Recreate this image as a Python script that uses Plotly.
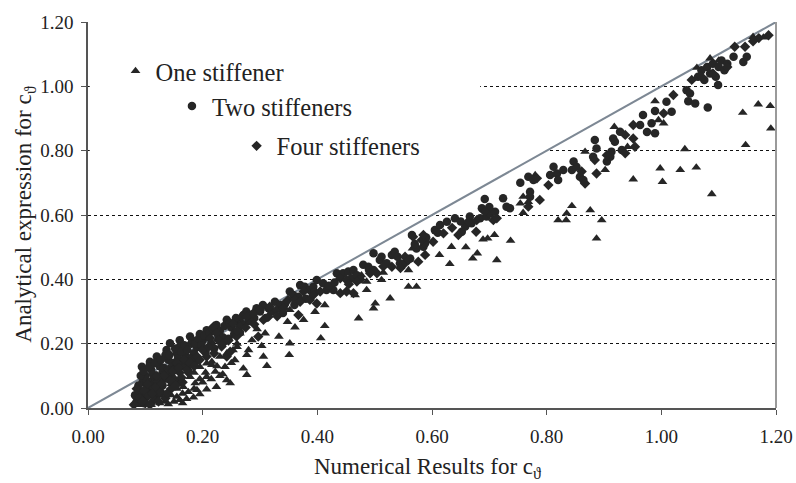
import plotly.graph_objects as go

# One stiffener (triangles)
one_x = [0.09,0.10,0.11,0.12,0.125,0.13,0.14,0.145,0.15,0.155,0.16,0.165,0.172,0.184,0.195,0.166,0.178,0.187,0.190,0.195,
         0.207,0.207,0.207,0.216,0.216,0.222,0.224,0.230,0.239,0.242,0.242,0.248,0.253,0.256,0.265,0.271,0.277,0.277,0.286,
         0.303,0.306,0.309,0.312,0.333,0.348,0.351,0.352,0.352,0.361,0.376,0.396,0.406,0.413,0.413,0.466,0.472,0.477,0.486,
         0.486,0.498,0.501,0.512,0.515,0.527,0.559,0.559,0.566,0.573,0.613,0.631,0.634,0.659,0.671,0.679,0.689,0.697,0.709,
         0.713,0.737,0.754,0.759,0.759,0.768,0.780,0.820,0.834,0.835,0.844,0.867,0.876,0.887,0.896,0.902,0.918,0.941,0.951,
         0.989,0.995,0.998,1.002,1.004,1.033,1.041,1.061,1.062,1.085,1.088,1.142,1.147,1.160,1.169,1.178,1.190,1.191,1.100,
         0.135,0.118,0.105,0.175,0.185,0.150,0.200,0.230,0.260,0.295,
         0.095,0.105,0.115,0.135,0.145,0.155,0.165,0.175,0.185,0.195,0.205,0.215,0.225,0.235,0.250,0.260,0.280]
one_y = [0.010,0.020,0.010,0.030,0.015,0.050,0.012,0.040,0.020,0.060,0.025,0.045,0.028,0.033,0.043,0.066,0.097,0.077,0.056,0.128,
         0.058,0.097,0.139,0.144,0.134,0.113,0.066,0.160,0.128,0.087,0.170,0.077,0.180,0.149,0.232,0.123,0.103,0.165,0.211,
         0.193,0.160,0.232,0.131,0.222,0.268,0.165,0.201,0.305,0.251,0.274,0.299,0.217,0.255,0.320,0.351,0.279,0.413,0.393,
         0.367,0.310,0.325,0.398,0.421,0.341,0.429,0.377,0.496,0.377,0.476,0.448,0.501,0.500,0.465,0.481,0.524,0.527,0.538,
         0.460,0.520,0.636,0.657,0.607,0.641,0.724,0.584,0.584,0.605,0.628,0.797,0.615,0.527,0.584,0.740,0.874,0.812,0.711,
         0.954,0.895,0.745,0.703,0.885,0.740,0.805,0.748,1.058,1.087,0.665,0.918,0.818,1.154,0.944,1.152,0.939,0.869,1.080,
         0.085,0.070,0.035,0.120,0.110,0.090,0.080,0.100,0.190,0.245,
         0.040,0.055,0.045,0.020,0.075,0.035,0.015,0.050,0.060,0.090,0.110,0.090,0.130,0.105,0.140,0.200,0.180]

# Two stiffeners (circles)
two_x = [0.085,0.090,0.095,0.094,0.100,0.100,0.105,0.108,0.110,0.115,0.120,0.120,0.125,0.130,0.130,0.137,0.140,0.143,0.145,0.150,
         0.155,0.160,0.160,0.165,0.170,0.178,0.180,0.185,0.190,0.195,0.200,0.207,0.210,0.215,0.224,0.230,0.235,0.242,0.250,
         0.255,0.260,0.271,0.280,0.285,0.294,0.300,0.310,0.315,0.326,0.335,0.344,0.352,0.358,0.367,0.370,0.378,0.387,0.393,
         0.399,0.410,0.416,0.428,0.434,0.445,0.454,0.463,0.460,0.469,0.480,0.489,0.498,0.498,0.509,0.512,0.521,0.530,0.535,
         0.544,0.556,0.562,0.565,0.573,0.585,0.588,0.605,0.614,0.626,0.640,0.652,0.658,0.666,0.669,0.684,0.687,0.692,0.695,
         0.701,0.710,0.724,0.730,0.736,0.754,0.768,0.771,0.771,0.777,0.806,0.812,0.818,0.820,0.829,0.844,0.847,0.852,0.858,
         0.864,0.881,0.884,0.887,0.905,0.911,0.913,0.916,0.919,0.928,0.931,0.963,0.968,0.975,0.983,0.989,0.989,1.009,1.018,
         1.044,1.050,1.047,1.059,1.064,1.070,1.075,1.080,1.085,1.090,1.095,1.100,1.105,1.110,1.115,1.099,1.081,1.126,1.143,
         1.149,0.112,0.128,0.148,0.158,0.172,0.188,0.205,0.220,0.245,0.265,0.098,0.118,0.135,
         0.082,0.088,0.092,0.097,0.103,0.107,0.113,0.117,0.122,0.127,0.132,0.138,0.142,0.147,0.152,0.157,0.163,0.168,0.173,
         0.182,0.187,0.193,0.198,0.203,0.212,0.218,0.228,0.238,0.247,0.258,0.268,0.276,0.290,0.305,
         0.320,0.340,0.360,0.380,0.395,0.420,0.430,0.475,0.490,0.540,0.570,0.590,0.610,0.650,0.700,
         0.088,0.102,0.115,0.126,0.140,0.152,0.166,0.178]
two_y = [0.020,0.050,0.080,0.128,0.030,0.100,0.060,0.144,0.120,0.090,0.160,0.040,0.130,0.070,0.110,0.180,0.150,0.201,0.100,0.130,
         0.170,0.211,0.190,0.140,0.160,0.222,0.200,0.170,0.190,0.230,0.210,0.242,0.220,0.200,0.258,0.240,0.220,0.274,0.250,
         0.230,0.270,0.289,0.270,0.290,0.310,0.300,0.280,0.310,0.330,0.320,0.325,0.362,0.351,0.346,0.382,0.377,0.367,0.377,
         0.398,0.388,0.367,0.367,0.419,0.419,0.424,0.429,0.403,0.413,0.445,0.439,0.481,0.429,0.460,0.470,0.450,0.476,0.486,
         0.450,0.460,0.465,0.538,0.496,0.501,0.512,0.553,0.569,0.579,0.590,0.548,0.564,0.595,0.574,0.590,0.621,0.650,0.595,
         0.605,0.610,0.652,0.626,0.621,0.700,0.719,0.672,0.657,0.709,0.724,0.750,0.729,0.709,0.740,0.740,0.766,0.750,0.719,
         0.709,0.781,0.833,0.807,0.766,0.781,0.797,0.838,0.828,0.859,0.802,0.880,0.911,0.858,0.885,0.923,0.854,0.952,0.921,
         0.988,0.978,0.954,0.947,1.030,1.050,1.020,1.060,1.040,1.070,1.030,1.060,1.080,1.050,1.070,1.004,0.934,1.092,1.076,
         1.092,0.075,0.095,0.115,0.080,0.125,0.145,0.175,0.185,0.215,0.235,0.015,0.055,0.165,
         0.040,0.070,0.100,0.115,0.085,0.130,0.105,0.140,0.080,0.150,0.125,0.095,0.165,0.140,0.185,0.155,0.175,0.195,0.180,
         0.210,0.200,0.215,0.195,0.225,0.235,0.245,0.225,0.255,0.265,0.280,0.262,0.300,0.280,0.320,
         0.300,0.295,0.320,0.340,0.360,0.380,0.390,0.400,0.430,0.470,0.510,0.530,0.545,0.580,0.625,
         0.030,0.040,0.060,0.045,0.105,0.120,0.130,0.155]

# Four stiffeners (diamonds)
four_x = [0.080,0.090,0.100,0.105,0.110,0.115,0.120,0.125,0.130,0.135,0.140,0.145,0.150,0.155,0.160,0.165,0.170,0.175,0.180,0.190,
          0.200,0.207,0.213,0.219,0.224,0.227,0.233,0.242,0.248,0.253,0.259,0.265,0.268,0.277,0.288,0.297,0.300,0.306,0.315,
          0.317,0.329,0.341,0.349,0.361,0.367,0.370,0.376,0.387,0.393,0.399,0.405,0.440,0.440,0.451,0.451,0.463,0.469,0.492,
          0.504,0.530,0.550,0.553,0.559,0.567,0.576,0.582,0.585,0.588,0.602,0.620,0.646,0.663,0.677,0.678,0.692,0.707,0.713,
          0.768,0.783,0.788,0.803,0.861,0.867,0.887,0.884,0.905,0.937,0.937,0.951,0.954,0.951,1.004,1.021,1.053,1.070,1.090,
          1.115,1.128,1.146,1.187,1.170,1.160,
          0.085,0.095,0.098,0.104,0.108,0.112,0.118,0.123,0.128,0.133,0.138,0.143,0.148,0.153,0.158,0.163,0.168,0.173,0.178,
          0.185,0.195,0.210,0.220,0.235,0.245,0.260,0.275,0.290,0.330,0.455,0.515,0.545,0.635]
four_y = [0.010,0.030,0.015,0.040,0.070,0.025,0.100,0.050,0.090,0.030,0.120,0.060,0.090,0.140,0.110,0.080,0.130,0.110,0.150,0.160,
          0.180,0.160,0.217,0.253,0.232,0.211,0.191,0.160,0.175,0.263,0.222,0.253,0.284,0.284,0.294,0.222,0.305,0.274,0.284,
          0.315,0.305,0.310,0.336,0.336,0.289,0.330,0.362,0.336,0.351,0.325,0.362,0.403,0.357,0.398,0.362,0.357,0.393,0.419,
          0.419,0.439,0.445,0.470,0.460,0.532,0.455,0.522,0.538,0.476,0.517,0.543,0.538,0.579,0.548,0.584,0.610,0.584,0.590,
          0.626,0.714,0.647,0.693,0.735,0.698,0.729,0.771,0.786,0.792,0.849,0.838,0.812,0.880,0.916,0.973,1.020,1.030,1.040,
          1.060,1.123,1.123,1.159,1.150,1.140,
          0.060,0.020,0.055,0.075,0.010,0.045,0.065,0.020,0.075,0.100,0.045,0.085,0.115,0.070,0.125,0.095,0.150,0.120,0.140,
          0.130,0.150,0.190,0.170,0.200,0.210,0.240,0.250,0.260,0.285,0.385,0.440,0.435,0.560]

# Line of equality
diag_x = [0.0, 1.2]
diag_y = [0.0, 1.2]

tick_vals = [0.0, 0.2, 0.4, 0.6, 0.8, 1.0, 1.2]
tick_text = ["0.00", "0.20", "0.40", "0.60", "0.80", "1.00", "1.20"]

x_title = "Numerical Results for c<sub>ϑ</sub>"
y_title = "Analytical expression for c<sub>ϑ</sub>"

MK = "#262626"
FONT = "Times New Roman, Liberation Serif, DejaVu Serif, serif"

fig = go.Figure()
fig.add_trace(go.Scatter(x=diag_x, y=diag_y, mode="lines", line=dict(color="#7d8894", width=2),
                         showlegend=False, hoverinfo="skip"))
fig.add_trace(go.Scatter(x=one_x, y=one_y, mode="markers", name="One stiffener",
                         marker=dict(symbol="triangle-up", size=8.5, color=MK), legend="legend"))
fig.add_trace(go.Scatter(x=two_x, y=two_y, mode="markers", name="Two stiffeners",
                         marker=dict(symbol="circle", size=8.5, color=MK), legend="legend2"))
fig.add_trace(go.Scatter(x=four_x, y=four_y, mode="markers", name="Four stiffeners",
                         marker=dict(symbol="diamond", size=8, color=MK), legend="legend3"))

leg_common = dict(font=dict(family=FONT, size=24.5, color="#222"), bgcolor="rgba(0,0,0,0)",
                  xanchor="left", yanchor="middle", itemsizing="trace")

axis_common = dict(range=[0, 1.2], tickvals=tick_vals, ticktext=tick_text, zeroline=False, automargin=False,
                   showline=True, linecolor="#555", linewidth=1.5, ticks="outside", ticklen=5, tickcolor="#555",
                   tickfont=dict(family=FONT, size=19, color="#222"))

fig.update_layout(
    width=796, height=483,
    margin=dict(l=88, r=20, t=22, b=75),
    paper_bgcolor="white", plot_bgcolor="white",
    font=dict(family=FONT, color="#222"),
    legend=dict(x=0.040, y=0.873, **leg_common),
    legend2=dict(x=0.122, y=0.782, **leg_common),
    legend3=dict(x=0.216, y=0.679, **leg_common),
    xaxis=dict(showgrid=False, ticklabelstandoff=5, **axis_common),
    yaxis=dict(showgrid=True, gridcolor="#111", griddash="dot", gridwidth=1, ticklabelstandoff=4, **axis_common),
    annotations=[
        dict(text=x_title, xref="paper", yref="paper", x=0.494, y=-0.155, xanchor="center", yanchor="middle",
             showarrow=False, font=dict(family=FONT, size=23, color="#222")),
        dict(text=y_title, xref="paper", yref="paper", x=-0.092, y=0.5, xanchor="center", yanchor="middle",
             textangle=-90, showarrow=False, font=dict(family=FONT, size=23, color="#222")),
    ],
    shapes=[
        dict(type="rect", xref="x", yref="y", x0=0.003, x1=0.684, y0=0.95, y1=1.05, layer="between",
             fillcolor="white", line=dict(width=0)),
        dict(type="rect", xref="x", yref="y", x0=0.003, x1=0.80, y0=0.76, y1=0.84, layer="between",
             fillcolor="white", line=dict(width=0)),
        dict(type="line", xref="paper", yref="paper", x0=1, x1=1, y0=0, y1=1,
             line=dict(color="#9a9a9a", width=2)),
    ],
)

fig.write_html("out.html")
